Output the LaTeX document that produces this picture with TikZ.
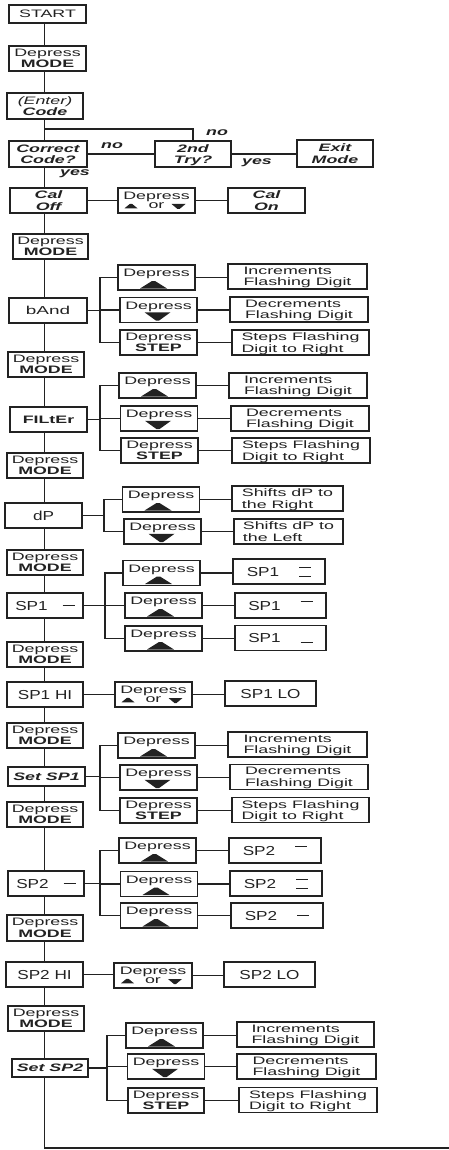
\documentclass[tikz,border=0pt]{standalone}
\usepackage{fontspec}
\setmainfont{Liberation Sans}[FakeStretch=1.65]
\newfontfamily\bigfont{Liberation Sans}[FakeStretch=1.32]
\usetikzlibrary{calc}
\definecolor{ink}{HTML}{222222}
\newcommand\nf{\fontsize{10.8}{11.5}\selectfont}
\newcommand\bgf{\bigfont\fontsize{13}{14}\selectfont}
\newcommand\barU{\rule[8.5pt]{12pt}{1.2pt}}
\newcommand\barL{\rule[-0.6pt]{12pt}{1.2pt}}
\newcommand\barM{\rule[4pt]{12pt}{1.2pt}}
\newcommand\barD{\rlap{\barU}\barL}
\newcommand\upT[1]{\fill[ink] ($(#1.center)+(-16.5,11)$) -- ++(27,0) -- ++(-12,-7.5) -- ++(-3,0) -- cycle;}
\newcommand\dnT[1]{\fill[ink] ($(#1.center)+(-14,2.3)$) -- ++(26,0) -- ++(-11.5,8.3) -- ++(-3,0) -- cycle;}
\newcommand\orT[1]{\fill[ink] ($(#1.center)+(-32,7.8)$) -- ++(13,0) -- ++(-5.5,-4.5) -- ++(-2,0) -- cycle;
  \fill[ink] ($(#1.center)+(15,3.5)$) -- ++(14,0) -- ++(-6,5) -- ++(-2,0) -- cycle;}
\begin{document}
\begin{tikzpicture}[x=1pt,y=-1pt,
  bx/.style 2 args={draw=ink, line width=1.2pt, inner sep=0pt, minimum width=#1pt, minimum height=#2pt, align=center, text=ink, font=\nf, text depth=0pt},
  dep/.style={bx={77}{25}, text height=11.5pt, text depth=13.5pt},
  res/.style 2 args={bx={#1}{#2}, align=left},
  bign/.style={font=\bgf},
  bi/.style={font=\nf\bfseries\itshape},
  lbl/.style={font=\nf\bfseries\itshape, text=ink, inner sep=0pt},
  wire/.style={draw=ink, line width=1.5pt}
]
\useasboundingbox (0,0) rectangle (449,1150);
\fill[white] (0,0) rectangle (449,1150);
\coordinate (sp) at (44.5,0);

% top section
\node[bx={77}{18}] (start) at (47.5,14) {START};
\node[bx={77}{25}] (m1) at (47.5,58.5) {Depress\\\textbf{MODE}};
\node[bx={76}{26}] (code) at (45,106) {\textit{(Enter)}\\\textbf{\textit{Code}}};
\node[bx={78}{26}, bi] (cc) at (48,154) {Correct\\Code?};
\node[bx={76}{26}, bi] (try) at (193,154) {2nd\\Try?};
\node[bx={76}{27}, bi] (exit) at (335,153.5) {Exit\\Mode};
\node[bx={77}{25}, bi] (caloff) at (48.5,200.5) {Cal\\Off};
\node[bx={77}{25}] (calor) at (156.5,200.5) {Depress\\[-2pt]or};
\node[bx={77}{25}, bi] (calon) at (266.5,200.5) {Cal\\On};
\node[lbl] (no1) at (217,133) {no};
\node[lbl] (no2) at (112,146) {no};
\node[lbl] (yes1) at (257,163) {yes};
\node[lbl] (yes2) at (75,174) {yes};

% bAnd
\node[bx={75}{25}] (m2) at (50.5,246.5) {Depress\\\textbf{MODE}};
\node[bx={78}{25}, font=\fontsize{11.5}{12}\selectfont] (band) at (48,310.5) {bAnd};
\node[dep] (b1) at (156.5,277.5) {Depress};
\node[res={139}{25}] (rb1) at (297.5,276.5) {Increments\\Flashing Digit};
\node[dep] (b2) at (158.5,310) {Depress};
\node[res={138}{25}] (rb2) at (299,309.5) {Decrements\\Flashing Digit};
\node[bx={77}{25}] (b3) at (158.5,342.5) {Depress\\\textbf{STEP}};
\node[res={137}{25}] (rb3) at (300.5,342.5) {Steps Flashing\\Digit to Right};

% FILtEr
\node[bx={76}{25}] (m3) at (46,364.5) {Depress\\\textbf{MODE}};
\node[bx={77}{25}] (filter) at (48.5,419.5) {\textbf{FILtEr}};
\node[dep] (f1) at (157.5,385.5) {Depress};
\node[res={138}{25}] (rf1) at (298,385.5) {Increments\\Flashing Digit};
\node[dep] (f2) at (159,418.5) {Depress};
\node[res={138}{25}] (rf2) at (300,418.5) {Decrements\\Flashing Digit};
\node[bx={77}{25}] (f3) at (159.5,450.5) {Depress\\\textbf{STEP}};
\node[res={138}{25}] (rf3) at (301,450.5) {Steps Flashing\\Digit to Right};

% dP
\node[bx={76}{25}] (m4) at (45,465.5) {Depress\\\textbf{MODE}};
\node[bx={77}{25}, bign] (dp) at (43.5,515.5) {dP};
\node[dep] (d1) at (161,499.5) {Depress};
\node[res={111}{25}] (rd1) at (287.5,498.5) {Shifts dP to\\the Right};
\node[dep] (d2) at (162.5,531.5) {Depress};
\node[res={109}{25}] (rd2) at (288.5,531.5) {Shifts dP to\\the Left};

% SP1
\node[bx={76}{25}] (m5) at (45,562.5) {Depress\\\textbf{MODE}};
\node[bx={76}{25}, bign] (sp1) at (45,605.5) {SP1\hspace{15pt}\barM};
\node[dep] (s1) at (161.5,573) {Depress};
\node[res={92}{25}, bign] (rs1) at (279,571.5) {SP1\hspace{20pt}\barD};
\node[dep] (s2) at (163.5,605.5) {Depress};
\node[res={91}{25}, bign] (rs2) at (280.5,605.5) {SP1\hspace{20pt}\barU};
\node[dep] (s3) at (163.5,638.5) {Depress};
\node[res={91}{25}, bign] (rs3) at (280.5,638) {SP1\hspace{20pt}\barL};

% SP1 HI
\node[bx={76}{25}] (m6) at (45,654.5) {Depress\\\textbf{MODE}};
\node[bx={76}{25}, bign] (sp1hi) at (45,694.5) {SP1 HI};
\node[bx={77}{25}] (h1) at (153.5,694.5) {Depress\\[-2pt]or};
\node[bx={91}{25}, bign] (rh1) at (270.5,693.5) {SP1 LO};

% Set SP1
\node[bx={76}{25}] (m7) at (45,735.5) {Depress\\\textbf{MODE}};
\node[bx={77}{19}, bi] (set1) at (46.5,776.5) {Set SP1};
\node[dep] (t1) at (156.5,745.5) {Depress};
\node[res={139}{25}] (rt1) at (297.5,744.5) {Increments\\Flashing Digit};
\node[dep] (t2) at (158.5,777.5) {Depress};
\node[res={138}{25}] (rt2) at (299,777) {Decrements\\Flashing Digit};
\node[bx={77}{25}] (t3) at (158.5,810.5) {Depress\\\textbf{STEP}};
\node[res={137}{25}] (rt3) at (300.5,810) {Steps Flashing\\Digit to Right};

% SP2
\node[bx={76}{25}] (m8) at (45,814.5) {Depress\\\textbf{MODE}};
\node[bx={76}{25}, bign] (sp2) at (46,883.5) {SP2\hspace{15pt}\barM};
\node[dep] (u1) at (157.5,850.5) {Depress};
\node[res={92}{25}, bign] (ru1) at (275,850.5) {SP2\hspace{20pt}\barU};
\node[dep] (u2) at (159,884) {Depress};
\node[res={92}{25}, bign] (ru2) at (276,883.5) {SP2\hspace{20pt}\barD};
\node[dep] (u3) at (159,915.5) {Depress};
\node[res={92}{25}, bign] (ru3) at (277,915.5) {SP2\hspace{20pt}\barM};

% SP2 HI
\node[bx={76}{26}] (m9) at (45,928) {Depress\\\textbf{MODE}};
\node[bx={77}{25}, bign] (sp2hi) at (44.5,974.5) {SP2 HI};
\node[bx={78}{25}] (k1) at (153,975.5) {Depress\\[-2pt]or};
\node[bx={91}{25}, bign] (rk1) at (269.5,974.5) {SP2 LO};

% Set SP2
\node[bx={76}{25}] (m10) at (46,1018.5) {Depress\\\textbf{MODE}};
\node[bx={76}{18}, bi] (set2) at (50,1068) {Set SP2};
\node[dep] (v1) at (164.5,1035.5) {Depress};
\node[res={137}{25}] (rv1) at (305.5,1034.5) {Increments\\Flashing Digit};
\node[dep] (v2) at (166,1066.5) {Depress};
\node[res={139}{25}] (rv2) at (306.5,1066.5) {Decrements\\Flashing Digit};
\node[bx={76}{25}] (v3) at (166,1100.5) {Depress\\\textbf{STEP}};
\node[res={138}{25}] (rv3) at (308,1100) {Steps Flashing\\Digit to Right};

% triangles
\foreach \n in {b1,f1,d1,s1,s2,s3,t1,u1,u2,u3,v1} {\upT{\n}}
\foreach \n in {b2,f2,d2,t2,v2} {\dnT{\n}}
\foreach \n in {calor,h1,k1} {\orT{\n}}

% spine
\foreach \a/\b in {start/m1, m1/code, code/cc, cc/caloff, caloff/m2, m2/band, band/m3, m3/filter, filter/m4, m4/dp, dp/m5, m5/sp1, sp1/m6, m6/sp1hi, sp1hi/m7, m7/set1, set1/m8, m8/sp2, sp2/m9, m9/sp2hi, sp2hi/m10, m10/set2}
  {\draw[wire] (\a.south -| sp) -- (\b.north -| sp);}
\coordinate (j1) at (44.5,129);
\draw[wire] (j1) -| (try.north);
\draw[wire] (cc.east) -- (cc.east -| try.west);
\draw[wire] (try.east) -- (try.east -| exit.west);
\draw[wire] (caloff.east) -- (caloff.east -| calor.west);
\draw[wire] (calor.east) -- (calor.east -| calon.west);
\draw[wire] (sp1hi.east) -- (sp1hi.east -| h1.west);
\draw[wire] (h1.east) -- (h1.east -| rh1.west);
\draw[wire] (sp2hi.east) -- (sp2hi.east -| k1.west);
\draw[wire] (k1.east) -- (k1.east -| rk1.west);

% branches
\foreach \p/\x/\cs in {band/100/{b1,b2,b3}, filter/100/{f1,f2,f3}, dp/104/{d1,d2}, sp1/105/{s1,s2,s3}, set1/100/{t1,t2,t3}, sp2/100/{u1,u2,u3}, set2/107/{v1,v2,v3}} {
  \coordinate (xb) at (\x,0);
  \draw[wire] (\p.east) -- (\p.east -| xb);
  \foreach \c in \cs {
    \draw[wire] (\c.west) -| (\p.east -| xb);
    \draw[wire] (\c.east) -- (\c.east -| r\c.west);
  }
}

% exit line
\coordinate (endL) at (44.5,1148);
\coordinate (endR) at (449,1148);
\draw[wire] (set2.south -| sp) -- (endL) -- (endR);
\end{tikzpicture}
\end{document}
